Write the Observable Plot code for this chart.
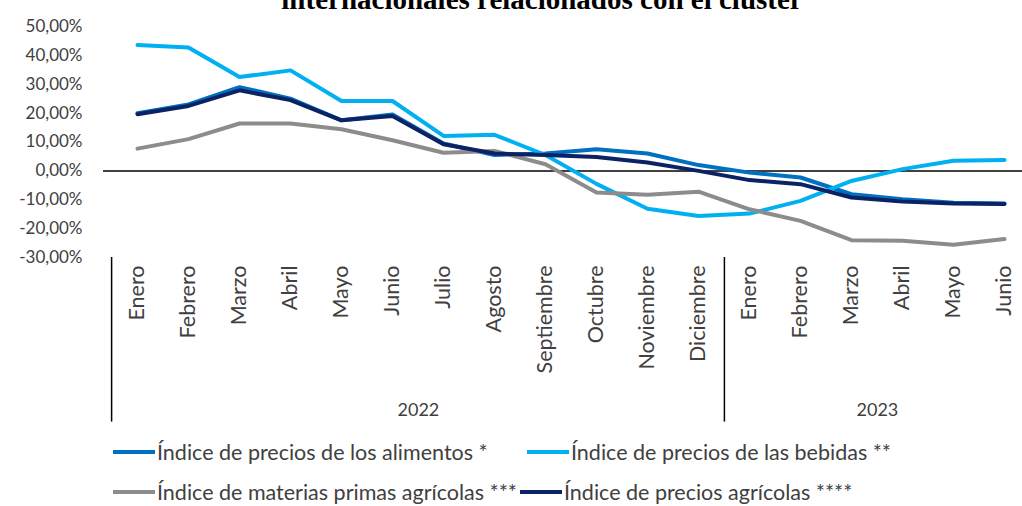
<!DOCTYPE html>
<html>
<head>
<meta charset="utf-8">
<script src="https://cdn.jsdelivr.net/npm/d3@7"></script>
<script src="https://cdn.jsdelivr.net/npm/@observablehq/plot@0.6"></script>
<style>
  body { margin:0; background:#fff; width:1022px; height:506px; overflow:hidden; position:relative; font-family:Lato, "Open Sans", sans-serif; }
  #chart { position:absolute; left:0; top:0; }
  #title { position:absolute; top:-15px; left:31px; width:1022px; text-align:center; font-family:"Liberation Serif","Times New Roman",serif; font-weight:bold; font-size:29px; line-height:29px; color:#000; white-space:nowrap; z-index:2; }
  .lg { position:absolute; display:flex; align-items:center; font-size:21.5px; line-height:26px; color:#404040; white-space:nowrap; z-index:2; }
  .sw { width:42px; height:4px; margin-right:2px; }
</style>
</head>
<body>
<div id="chart"></div>
<div id="title">internacionales relacionados con el clúster</div>
<div id="legend"></div>
<script>
const months2022 = ["Enero","Febrero","Marzo","Abril","Mayo","Junio","Julio","Agosto","Septiembre","Octubre","Noviembre","Diciembre"];
const months2023 = ["Enero","Febrero","Marzo","Abril","Mayo","Junio"];
const years = ["2022","2023"];

const seriesNames = [
  "Índice de precios de los alimentos *",
  "Índice de precios de las bebidas **",
  "Índice de materias primas agrícolas ***",
  "Índice de precios agrícolas ****"
];
const seriesColors = ["#0070C0","#00B0F0","#8C8C8C","#0B2265"];

const alimentos = [20.0, 23.0, 29.0, 25.0, 17.5, 19.5, 9.5, 5.5, 6.0, 7.5, 6.0, 2.0, -0.6, -2.3, -8.1, -9.8, -11.0, -11.3];
const bebidas   = [43.6, 42.7, 32.5, 34.8, 24.2, 24.2, 12.1, 12.5, 5.5, -4.5, -13.1, -15.6, -14.8, -10.4, -3.5, 0.6, 3.5, 3.8];
const materias  = [7.7, 11.0, 16.4, 16.4, 14.4, 10.6, 6.3, 6.9, 2.3, -7.5, -8.3, -7.2, -13.3, -17.3, -24.0, -24.2, -25.6, -23.6];
const agricolas = [19.6, 22.5, 27.9, 24.5, 17.5, 19.0, 9.2, 6.0, 5.5, 4.8, 2.9, 0.0, -3.2, -4.6, -9.2, -10.6, -11.3, -11.5];

const keys = [...months2022.map(m => m + " " + years[0]), ...months2023.map(m => m + " " + years[1])];
const allSeries = [alimentos, bebidas, materias, agricolas];
const rows = [];
allSeries.forEach((vals, s) => vals.forEach((v, i) => rows.push({key: keys[i], serie: seriesNames[s], value: v})));

const yearLabels = [
  {key: keys[5], label: years[0]},
  {key: keys[14], label: years[1]}
];

const fmt = d => d.toFixed(2).replace(".", ",") + "%";
const half = 25.9;

const chart = Plot.plot({
  width: 1022,
  height: 430,
  marginTop: 26,
  marginBottom: 173,
  marginLeft: 103,
  marginRight: 0,
  style: {fontFamily: "Lato, sans-serif", color: "#404040", background: "transparent"},
  x: {type: "point", domain: keys, range: [130, 1010], padding: 0, axis: null},
  y: {domain: [-30, 50], axis: null},
  color: {domain: seriesNames, range: seriesColors},
  marks: [
    Plot.axisY({interval: 10, tickSize: 0, tickPadding: 21, tickFormat: fmt, fontSize: 17, fill: "#404040", label: null}),
    Plot.axisX({tickSize: 0, tickRotate: -90, tickPadding: 8, tickFormat: k => k.split(" ")[0], fontSize: 21.5, fill: "#404040", label: null}),
    Plot.ruleY([0], {stroke: "#000", strokeWidth: 1.5}),
    Plot.ruleX([keys[0]], {dx: -half, y1: -30, y2: -87, stroke: "#000", strokeWidth: 1.5}),
    Plot.ruleX([keys[11]], {dx: half, y1: -30, y2: -87, stroke: "#000", strokeWidth: 1.5}),
    Plot.text(yearLabels, {x: "key", y: () => -83, dx: half, text: "label", fontSize: 18, fill: "#404040"}),
    Plot.line(rows, {x: "key", y: "value", z: "serie", stroke: "serie", strokeWidth: 4, strokeLinejoin: "round", strokeLinecap: "round"})
  ]
});
document.getElementById("chart").appendChild(chart);

const legendPos = [[113, 439], [527, 439], [113, 479], [520, 479]];
const legend = document.getElementById("legend");
seriesNames.forEach((n, i) => {
  const d = document.createElement("div");
  d.className = "lg";
  d.style.left = legendPos[i][0] + "px";
  d.style.top = legendPos[i][1] + "px";
  d.innerHTML = `<span class="sw" style="background:${seriesColors[i]}"></span><span>${n}</span>`;
  legend.appendChild(d);
});
</script>
</body>
</html>
